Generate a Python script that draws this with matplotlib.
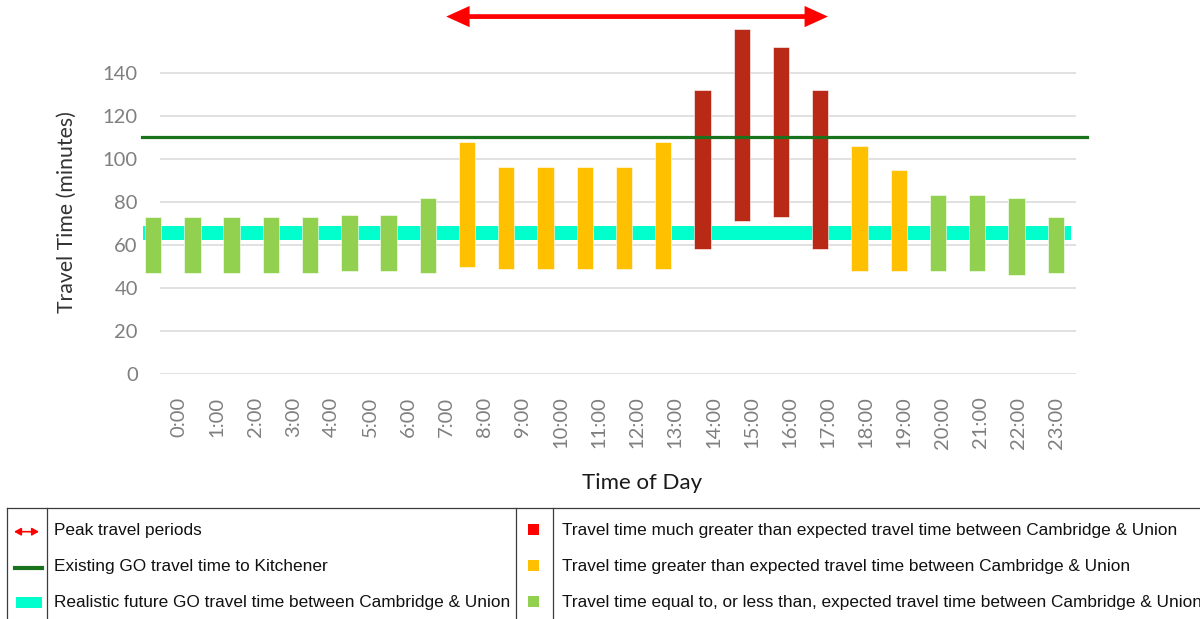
import matplotlib
matplotlib.use("Agg")
from matplotlib import pyplot as plt
from matplotlib.patches import Rectangle, FancyArrowPatch

# travel time range for each departure hour (minutes)
HOURS = [f"{h}:00" for h in range(24)]
TIME_MAX = [73, 73, 73, 73, 73, 74, 74, 82, 108, 96, 96, 96, 96, 108,
            132, 160, 152, 132, 106, 95, 83, 83, 82, 73]
TIME_MIN = [47, 47, 47, 47, 47, 48, 48, 47, 50, 49, 49, 49, 49, 49,
            58, 71, 73, 58, 48, 48, 48, 48, 46, 47]
# 0 = equal or less, 1 = greater, 2 = much greater than expected
CATEGORY = [0, 0, 0, 0, 0, 0, 0, 0, 1, 1, 1, 1, 1, 1,
            2, 2, 2, 2, 1, 1, 0, 0, 0, 0]

EXISTING_GO = 110.1
FUTURE_GO = (62.5, 69.0)
PEAK_START, PEAK_END = 7, 17

BAR_COLORS = ['#92D050', '#FFC000', '#B82A16']
LEGEND_COLORS = ['#FF0000', '#FFC000', '#92D050']
DARK_GREEN = '#18731C'
CYAN = '#00FFCC'
RED = '#FF0000'

W, H = 1200, 619
fig = plt.figure(figsize=(W / 100, H / 100), dpi=100)

# plot area in pixels
x0, x1 = 160, 1076
y0, y1 = 374.3, 29.5
ax = fig.add_axes([x0 / W, 1 - y0 / H, (x1 - x0) / W, (y0 - y1) / H])

ax.set_xlim(-0.5, 23.5)
ax.set_ylim(0, 160)
ax.set_yticks(range(0, 141, 20))
ax.set_xticks(range(24))
ax.set_xticklabels(HOURS, rotation=90)
for s in ax.spines.values():
    s.set_visible(False)
ax.tick_params(length=0, labelcolor='#7F7F7F', labelsize=14.5, pad=16)
for lbl in ax.get_xticklabels() + ax.get_yticklabels():
    lbl.set_family('Lato')
ax.yaxis.grid(True, color='#DEDEDE', lw=1.3)
ax.set_axisbelow(True)

ax.set_ylabel('Travel Time (minutes)', family='Lato', fontsize=15.3,
              color='#333333')
ax.yaxis.set_label_coords(-0.091, 0.47)
ax.set_xlabel('Time of Day', family='Lato', fontsize=16, color='#1A1A1A')
ax.xaxis.set_label_coords(0.526, -0.285)

# realistic future GO band
ax.axhspan(FUTURE_GO[0], FUTURE_GO[1], xmin=-0.0186, xmax=0.994,
           color=CYAN, lw=0, zorder=2, clip_on=False)

# peak period arrow
arr = FancyArrowPatch((PEAK_START, 166), (PEAK_END, 166),
                      arrowstyle='<|-|>,head_length=0.55,head_width=0.25',
                      mutation_scale=20, color=RED, lw=3.4,
                      joinstyle='miter', capstyle='butt',
                      shrinkA=0, shrinkB=0, clip_on=False, zorder=5)
ax.add_patch(arr)

# the bars sit on their own x scale
bx = ax.twiny()
bx.set_xlim(0.178, 23.516)
bx.set_xticks([])
for s in bx.spines.values():
    s.set_visible(False)
heights = [t - b for t, b in zip(TIME_MAX, TIME_MIN)]
colors = [BAR_COLORS[c] for c in CATEGORY]
bx.bar(range(24), heights, bottom=TIME_MIN, width=0.42, color=colors,
       edgecolor='white', lw=0.4, zorder=3, clip_on=False)
# existing GO line drawn over the bars
bx.axhline(EXISTING_GO, xmin=-0.0197, xmax=1.012, color=DARK_GREEN,
           lw=2.3, zorder=4, clip_on=False)

# legend table below the chart
lg = fig.add_axes([0, 0, 1, 119 / H])
lg.set_xlim(0, W)
lg.set_ylim(119, 0)
lg.axis('off')
edge = '#3C3C3C'
lg.plot([7, W], [8, 8], color=edge, lw=0.9)
for xv in (7, 47, 515.5, 552.7):
    lg.plot([xv, xv], [8, 119], color=edge, lw=0.9)

rows = [30, 66, 102]
left_text = ['Peak travel periods',
             'Existing GO travel time to Kitchener',
             'Realistic future GO travel time between Cambridge & Union']
right_text = ['Travel time much greater than expected travel time between Cambridge & Union',
              'Travel time greater than expected travel time between Cambridge & Union',
              'Travel time equal to, or less than, expected travel time between Cambridge & Union']
for y, t in zip(rows, left_text):
    lg.text(54, y, t, family='Liberation Sans', fontsize=12.4, color='#111111',
            va='center', ha='left')
for y, t in zip(rows, right_text):
    lg.text(562, y, t, family='Liberation Sans', fontsize=12.4, color='#111111',
            va='center', ha='left')

lg.add_patch(FancyArrowPatch((14, 31.7), (39, 31.7),
                             arrowstyle='<|-|>,head_length=4,head_width=2.2',
                             mutation_scale=1, color=RED, lw=1.2,
                             shrinkA=0, shrinkB=0))
lg.plot([15, 42], [67.7, 67.7], color=DARK_GREEN, lw=3)
lg.add_patch(Rectangle((16, 97), 26, 11, color=CYAN, lw=0))
for y, c in zip(rows, LEGEND_COLORS):
    lg.add_patch(Rectangle((528, y - 6), 11, 11, color=c, lw=0))

fig.savefig('out.png', dpi=100)
